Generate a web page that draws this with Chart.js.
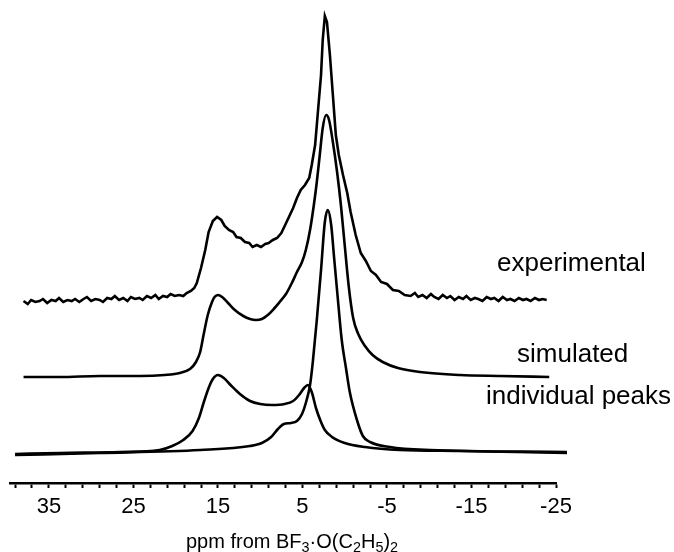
<!DOCTYPE html>
<html>
<head>
<meta charset="utf-8">
<script src="https://cdn.jsdelivr.net/npm/chart.js@4"></script>
<style>
    html, body { margin: 0; padding: 0; background: #fff; }
    #wrap { position: relative; width: 674px; height: 552px; }
    #xtitle {
        position: absolute;
        left: 186px;
        top: 530px;
        font: 20px 'Liberation Sans', Arial, sans-serif;
        color: #000;
        white-space: nowrap;
    }
    #xtitle sub { font-size: 72%; vertical-align: baseline; position: relative; top: 0.3em; }
</style>
</head>
<body>
<div id="wrap">
    <canvas id="nmrChart" width="674" height="552"></canvas>
    <div id="xtitle">ppm from BF<sub>3</sub>·O(C<sub>2</sub>H<sub>5</sub>)<sub>2</sub></div>
</div>
<script>
// Chemical shift (ppm) and plotted intensity of each trace (traces are stacked)
const expPpm = [38.0, 37.5, 37.1, 36.6, 36.1, 35.7, 35.2, 34.7, 34.2, 33.8, 33.3, 32.8, 32.3, 31.9, 31.4,
    30.9, 30.5, 30.0, 29.5, 29.0, 28.6, 28.1, 27.6, 27.2, 26.7, 26.2, 25.7, 25.3, 24.8, 24.3, 23.9, 23.4,
    22.9, 22.4, 22.0, 21.5, 21.0, 20.6, 20.1, 19.6, 19.1, 18.7, 18.2, 17.8, 17.5, 17.0, 16.5, 16.1,
    15.6, 15.1, 14.6, 14.2, 13.7, 13.2, 12.8, 12.3, 11.8, 11.3, 10.9, 10.4, 9.9, 9.4, 9.0, 8.5, 8.0, 7.5, 7.1,
    6.6, 6.1, 5.65, 5.2, 4.7, 4.2, 3.9, 3.5, 3.2, 2.8, 2.6, 2.35, 2.1, 1.75, 1.4, 1.05, 0.7, 0.2, -0.3, -0.7,
    -1.3, -1.9, -2.5, -3.1, -3.7, -4.3, -5.0, -5.7, -6.4, -7.1, -7.8, -8.3, -8.7, -9.2, -9.7, -10.2, -10.6,
    -11.1, -11.6, -12.1, -12.5, -13.0, -13.5, -14.0, -14.4, -14.9, -15.4, -15.8, -16.3, -16.8, -17.3, -17.7,
    -18.2, -18.7, -19.2, -19.6, -20.1, -20.6, -21.1, -21.5, -22.0, -22.5, -23.0, -23.4, -23.9];
const expInt = [182, 179, 183, 181, 182, 184, 180, 183, 182, 185, 181, 183, 182, 184, 181,
    184, 186, 182, 184, 183, 181, 185, 184, 187, 183, 185, 182, 186, 184, 185, 183, 187,
    185, 188, 184, 187, 186, 189, 187, 188, 187, 190, 192, 195, 200, 215, 233, 251,
    262, 266, 263, 257, 253, 251, 246, 245, 241, 240, 236, 238, 236, 239, 240, 243, 245, 250, 257,
    266, 275, 285, 293, 298, 305, 318, 338, 368, 408, 443, 467, 461, 428, 388, 348, 328, 308, 290, 271,
    248, 230, 222, 212, 208, 201, 199, 193, 192, 188, 187, 190, 186, 188, 185, 189, 186,
    184, 188, 185, 187, 183, 186, 184, 187, 183, 185, 184, 182, 186, 184, 185,
    182, 186, 183, 184, 182, 185, 183, 184, 182, 185, 183, 184, 183];

const simPpm = [38.0, 33.7, 29.0, 24.2, 21.3, 19.5, 18.3, 17.6, 17.1, 16.7, 16.2, 15.7, 15.4, 15.0, 14.5,
    13.8, 13.0, 12.0, 11.2, 10.5, 9.8, 9.1, 8.4, 7.7, 6.95, 6.25, 5.65, 5.05, 4.6, 4.1, 3.65, 3.3, 2.95,
    2.6, 2.2, 1.85, 1.4, 0.9, 0.45, 0.0, -0.5, -1.0, -1.6, -2.4, -3.3, -4.5, -6.3, -8.9, -13.6, -18.4, -24.2];
const simInt = [106, 106, 107, 107, 108, 110, 114, 121, 131, 148, 168, 181, 186, 188, 186,
    180, 173, 167, 164, 163, 164, 168, 174, 181, 189, 200, 211, 221, 233, 253, 278, 301, 328,
    355, 368, 363, 341, 311, 278, 238, 195, 165, 149, 137, 128, 121, 115, 111, 108, 107, 106];

// component at 15 ppm with the small 4.4 ppm line
const peakAPpm = [39.0, 33.7, 26.6, 21.9, 20.4, 19.1, 18.0, 17.25, 16.7, 16.1, 15.6, 15.0, 14.3, 13.5, 12.4,
    11.2, 10.0, 8.6, 7.1, 6.1, 5.4, 4.8, 4.35, 3.9, 3.4, 2.9, 2.35, 1.5, 0.0, -2.4, -6.5, -13.6, -26.3];
const peakAInt = [29, 30, 31, 33, 37, 43, 52, 65, 80, 95, 104, 108, 105, 98, 89,
    82, 79, 78, 79, 82, 88, 95, 98, 91, 75, 63, 53, 46, 40, 36, 33, 32, 30];

// component at 2 ppm with its shoulder
const peakBPpm = [39.0, 29.0, 17.1, 11.2, 9.8, 8.7, 7.9, 7.2, 6.35, 5.65, 5.05, 4.6, 4.1, 3.75, 3.3, 2.8,
    2.35, 2.0, 1.6, 1.25, 0.8, 0.35, -0.15, -0.6, -1.45, -2.15, -3.0, -5.35, -10.1, -26.3];
const peakBInt = [28, 30, 33, 37, 40, 46, 54, 59, 60, 62, 69, 80, 98, 123, 163, 213,
    261, 273, 258, 225, 183, 143, 115, 91, 63, 47, 41, 36, 33, 31];

const traceNames = ['experimental', 'simulated', 'individual peaks'];
const labeledTicks = [35, 25, 15, 5, -5, -15, -25];

// minor ticks every 2 ppm
const axisTicks = [];
for (let v = 39; v >= -25; v -= 2) axisTicks.push(v);

function toPoints(xs, ys) {
    return xs.map((x, i) => ({ x: x, y: ys[i] }));
}

// where the trace names sit (canvas px)
const NAME_SPOTS = [[497, 264], [517, 355], [486, 397]];

const traceNamePlugin = {
    id: 'traceNames',
    afterDraw(chart) {
        const ctx = chart.ctx;
        ctx.save();
        ctx.font = "26px 'Liberation Sans', Arial, sans-serif";
        ctx.fillStyle = '#000';
        ctx.textBaseline = 'middle';
        ctx.textAlign = 'left';
        traceNames.forEach((name, i) => ctx.fillText(name, NAME_SPOTS[i][0], NAME_SPOTS[i][1]));
        ctx.restore();
    }
};

Chart.defaults.font.family = "'Liberation Sans', Arial, sans-serif";
Chart.defaults.color = '#000';

function lineSet(points, smooth) {
    return {
        data: points,
        borderColor: '#000',
        backgroundColor: 'transparent',
        borderWidth: 2.6,
        pointRadius: 0,
        tension: smooth ? 0.4 : 0,
        cubicInterpolationMode: smooth ? 'monotone' : 'default',
        clip: false
    };
}

const ctx = document.getElementById('nmrChart').getContext('2d');
new Chart(ctx, {
    type: 'line',
    data: {
        datasets: [
            lineSet(toPoints(expPpm, expInt), false),
            lineSet(toPoints(simPpm, simInt), true),
            lineSet(toPoints(peakAPpm, peakAInt), true),
            lineSet(toPoints(peakBPpm, peakBInt), true)
        ]
    },
    options: {
        responsive: false,
        animation: false,
        events: [],
        layout: { padding: { left: 10, right: 118, top: 5, bottom: 0 } },
        plugins: { legend: { display: false }, tooltip: { enabled: false } },
        scales: {
            x: {
                type: 'linear',
                reverse: true,
                min: -25,
                max: 39.6,
                afterBuildTicks: (scale) => { scale.ticks = axisTicks.map(v => ({ value: v })); },
                afterFit: (scale) => { scale.height = 69; },
                border: { display: true, color: '#000', width: 2.6 },
                grid: {
                    display: true,
                    drawOnChartArea: false,
                    drawTicks: true,
                    tickLength: 5,
                    tickWidth: 2,
                    tickColor: '#000'
                },
                ticks: {
                    autoSkip: false,
                    maxRotation: 0,
                    padding: 6,
                    color: '#000',
                    font: { size: 22 },
                    callback: (v) => labeledTicks.includes(v) ? String(v) : ''
                }
            },
            y: { display: false, min: 0, max: 478 }
        }
    },
    plugins: [traceNamePlugin]
});
</script>
</body>
</html>
